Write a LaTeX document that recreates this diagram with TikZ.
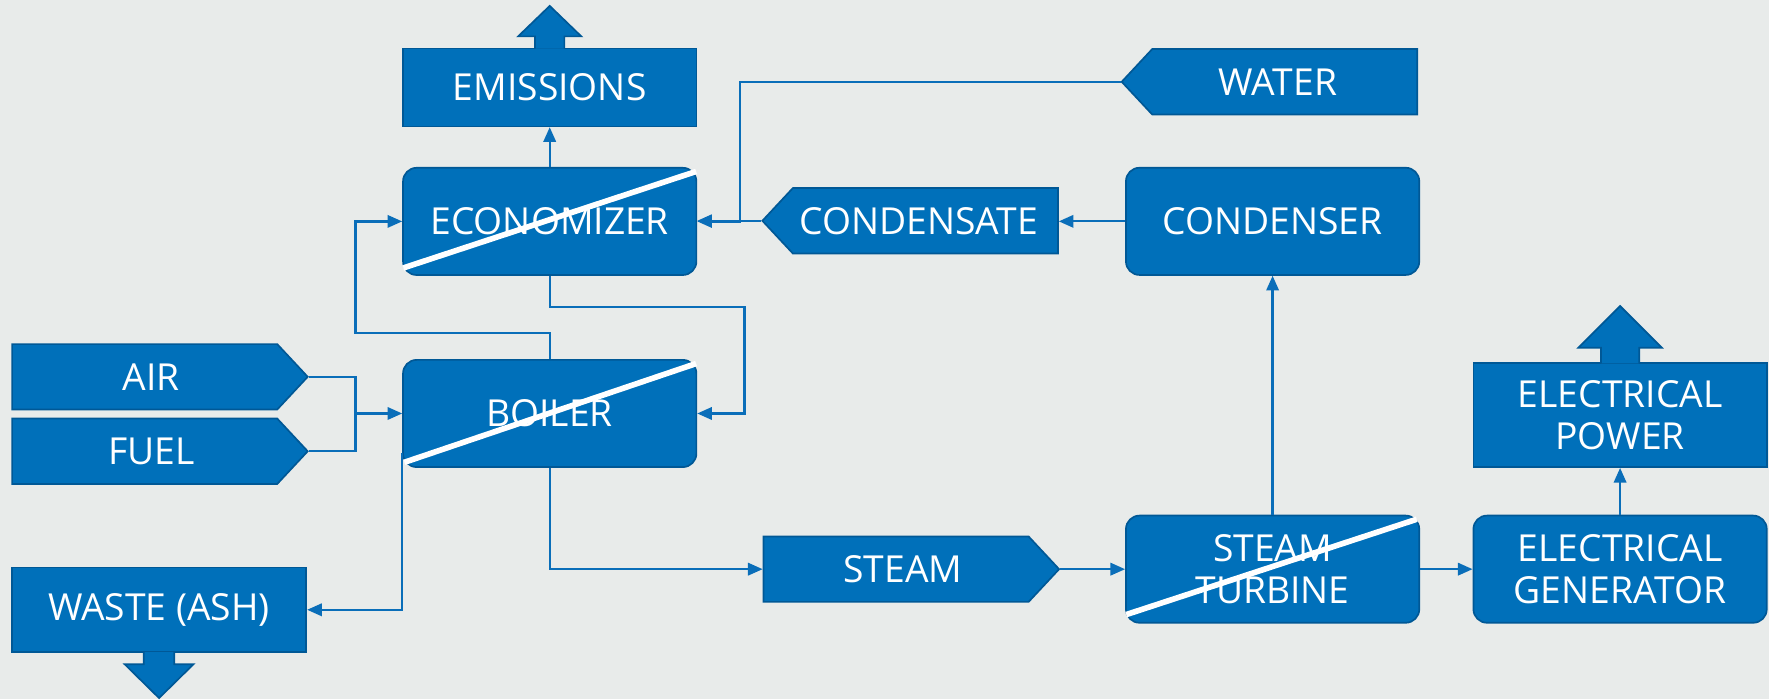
\documentclass[tikz,border=0pt]{standalone}
\usepackage{fontspec}
\setmainfont{Open Sans}
\usetikzlibrary{shapes.symbols,arrows.meta}
\definecolor{bg}{RGB}{232,235,234}
\definecolor{boxfill}{RGB}{0,112,186}
\definecolor{boxline}{RGB}{0,88,150}
\definecolor{wire}{RGB}{10,110,185}
\begin{document}
\begin{tikzpicture}[x=1pt,y=-1pt,
  box/.style={draw=boxline, line width=1.5pt, fill=boxfill, text=white,
    font=\fontsize{33}{38}\selectfont, align=center, inner sep=0pt,
    minimum width=260pt},
  rbox/.style={box, rounded corners=12pt, minimum height=95pt},
  sig/.style={box, shape=signal, signal pointer angle=94, minimum height=58pt, minimum width=262pt},
  bigarrow/.style={draw=boxline, line width=1.5pt, fill=boxfill},
  wirestyle/.style={draw=wire, line width=2pt},
  arr/.style={wirestyle, -{Triangle[length=13pt,width=11pt]}},
  slash/.style={draw=white, line width=5pt},
]
\path[use as bounding box, fill=bg] (0,0) rectangle (1568,620);

% nodes
\node[box, minimum height=69pt] (emis) at (487.25,77.5) {EMISSIONS};
\node[rbox] (eco) at (487.25,196.25) {ECONOMIZER};
\node[rbox] (boiler) at (487.25,366.5) {BOILER};
\node[sig, signal to=east, anchor=west] (air) at (10,334) {\hspace*{12pt}AIR};
\node[sig, signal to=east, anchor=west] (fuel) at (10,400) {\hspace*{12pt}FUEL};
\node[box, minimum height=75pt, minimum width=261pt] (waste) at (141,540.5) {WASTE (ASH)};
\node[sig, signal to=west, anchor=east] (water) at (1257,72.5) {WATER\hspace*{12pt}};
\node[sig, signal to=west, anchor=east] (cond) at (938.5,195.7) {CONDENSATE\hspace*{12pt}};
\node[rbox] (condenser) at (1128,196.2) {CONDENSER};
\node[sig, signal to=east, anchor=west] (steam) at (676,504.5) {\hspace*{12pt}STEAM};
\node[rbox] (turbine) at (1128,504.5) {STEAM\\TURBINE};
\node[rbox] (gen) at (1436,504.5) {ELECTRICAL\\GENERATOR};
\node[box, minimum height=92pt] (power) at (1436,368) {ELECTRICAL\\POWER};

% block arrows
\path[bigarrow] ([xshift=-13pt,yshift=-0.8pt]emis.north) -- ([xshift=-13pt,yshift=10pt]emis.north)
  -- ([xshift=-28pt,yshift=10pt]emis.north) -- ([yshift=37pt]emis.north)
  -- ([xshift=28pt,yshift=10pt]emis.north) -- ([xshift=13pt,yshift=10pt]emis.north)
  -- ([xshift=13pt,yshift=-0.8pt]emis.north);
\path[bigarrow] ([xshift=-17pt,yshift=-0.8pt]power.north) -- ([xshift=-17pt,yshift=13pt]power.north)
  -- ([xshift=-37pt,yshift=13pt]power.north) -- ([yshift=50pt]power.north)
  -- ([xshift=37pt,yshift=13pt]power.north) -- ([xshift=17pt,yshift=13pt]power.north)
  -- ([xshift=17pt,yshift=-0.8pt]power.north);
\path[bigarrow] ([xshift=-13.5pt,yshift=0.8pt]waste.south) -- ([xshift=-13.5pt,yshift=-10pt]waste.south)
  -- ([xshift=-30.5pt,yshift=-10pt]waste.south) -- ([yshift=-40pt]waste.south)
  -- ([xshift=30.5pt,yshift=-10pt]waste.south) -- ([xshift=13.5pt,yshift=-10pt]waste.south)
  -- ([xshift=13.5pt,yshift=0.8pt]waste.south);

% slashes
\draw[slash] ([xshift=1pt,yshift=7pt]eco.south west) -- ([xshift=-1pt,yshift=-4pt]eco.north east);
\draw[slash] ([xshift=2pt,yshift=5pt]boiler.south west) -- ([xshift=-1pt,yshift=-4pt]boiler.north east);
\draw[slash] ([xshift=1pt,yshift=8pt]turbine.south west) -- ([xshift=-3pt,yshift=-4pt]turbine.north east);

% connectors
\coordinate (jL) at (315,366.5);
\draw[wirestyle] (air.east) -| (jL);
\draw[wirestyle] (fuel.east) -| (jL);
\draw[arr] (jL) -- (boiler.west);
\coordinate (c1) at (315,295);
\draw[arr] (boiler.north) |- (c1) |- (eco.west);
\coordinate (c2) at (660,272);
\draw[arr] (eco.south) |- (c2) |- (boiler.east);
\draw[arr] (eco.north) -- (emis.south);
\coordinate (c3) at (656,72.5);
\draw[arr] (water.west) -- (water.west -| c3) |- (eco.east);
\draw[arr] (cond.west) -- (cond.west -| eco.east);
\draw[arr] (condenser.west) -- (condenser.west -| cond.east);
\draw[arr] (boiler.south) |- (steam.west);
\draw[arr] (steam.east) -- (turbine.west);
\draw[arr] (turbine.north) -- (condenser.south);
\draw[arr] (turbine.east) -- (gen.west);
\draw[arr] (gen.north) -- (power.south);
\coordinate (c4) at ([yshift=13pt]boiler.south west);
\draw[arr] (c4) |- (waste.east);
\end{tikzpicture}
\end{document}
